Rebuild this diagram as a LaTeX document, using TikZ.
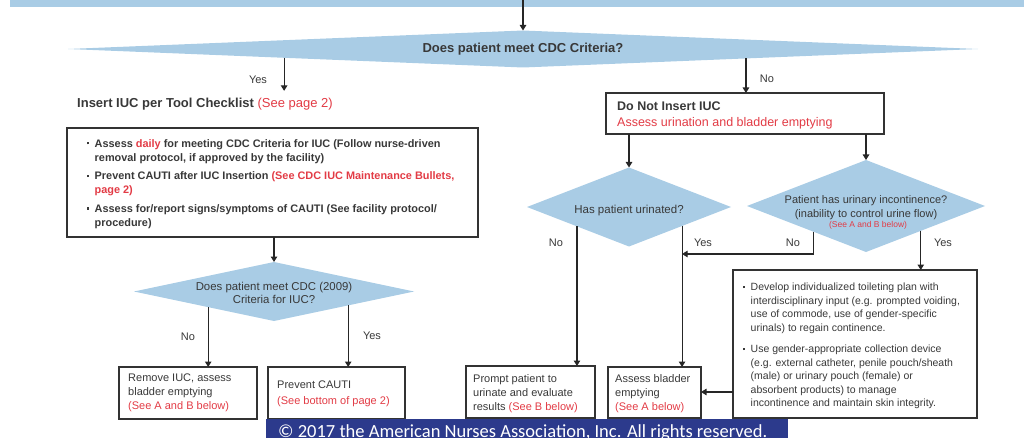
\documentclass[tikz,border=0pt]{standalone}
\usepackage{fontspec}
\setmainfont{Liberation Sans}
\newfontfamily\bannerfont{Carlito}
\usetikzlibrary{shapes.geometric,arrows.meta,calc}
\definecolor{diablue}{HTML}{A9CCE5}
\definecolor{redtxt}{HTML}{E23B45}
\definecolor{txtgray}{HTML}{383838}
\definecolor{boxline}{HTML}{333333}
\definecolor{navy}{HTML}{2C3A8C}
\newcommand{\rd}[1]{\textcolor{redtxt}{#1}}
\newcommand{\fs}[2]{\fontsize{#1}{#2}\selectfont}
\newcommand{\bulx}{\makebox[7.5pt][l]{\raisebox{2.6pt}{\rule{2.2pt}{2.2pt}}}}
\newcommand{\indx}{\hspace*{7.5pt}}
\tikzset{
  box/.style={draw=boxline, line width=1.3pt, inner sep=0pt, outer sep=0pt, anchor=north west},
  dia/.style={diamond, fill=diablue, draw=none, inner sep=0pt, outer sep=0pt},
  arr/.style={draw=black!85, line width=1.1pt, -{Triangle[length=5.5pt,width=6.5pt]}},
  txt/.style={text=txtgray, inner sep=0pt, align=left, anchor=north west},
  ctxt/.style={text=txtgray, inner sep=0pt, align=center},
  lbl/.style={text=txtgray, inner sep=0pt, anchor=base, font=\fs{11}{13}},
}
\begin{document}
\begin{tikzpicture}[x=1pt,y=-1pt]
\useasboundingbox (0,0) rectangle (1024,438);

% top band
\node[fill=diablue, anchor=north west, minimum width=1014pt, minimum height=7pt, inner sep=0pt, outer sep=0pt] (band) at (10,0) {};

% main diamond
\node[dia, minimum width=910pt, minimum height=37pt] (d1) at (523,49) {};
\node[ctxt, anchor=base, font=\bfseries\fs{13}{15}] (d1t) at (523,52.7) {Does patient meet CDC Criteria?};
\draw[arr] (d1.north |- band.north) -- (d1.north);

% left branch
\node[txt, anchor=base west, font=\fs{13}{15}] (ins) at (77,107.5) {\textbf{Insert IUC per Tool Checklist} \rd{(See page 2)}};
\coordinate (y1) at ($(d1.west)!0.475!(d1.south)$);
\draw[arr] (y1) -- ($(y1 |- ins.north)+(0,-7)$);
\node[lbl] (y1l) at (258,84) {Yes};

\node[box, minimum width=411pt, minimum height=109pt] (lb) at (67,128) {};
\node[txt, font=\bfseries\fs{10.9}{14.3}] (lbt) at (87,139) {%
\bulx Assess \rd{daily} for meeting CDC Criteria for IUC (Follow nurse-driven\\
\indx removal protocol, if approved by the facility)\\[4pt]
\bulx Prevent CAUTI after IUC Insertion \rd{(See CDC IUC Maintenance Bullets,}\\
\indx\rd{page 2)}\\[4pt]
\bulx Assess for/report signs/symptoms of CAUTI (See facility protocol/\\
\indx procedure)};

\node[dia, minimum width=280pt, minimum height=59pt] (d2) at (274,291.5) {};
\node[ctxt, anchor=north, font=\fs{11.4}{13}] (d2t) at (274,282.4) {Does patient meet CDC (2009)\\Criteria for IUC?};
\draw[arr] (lb.south -| d2.north) -- (d2.north);

\node[box, minimum width=138pt, minimum height=52pt] (rm) at (119,367) {};
\node[txt, font=\fs{11}{14}] (rmt) at (128,374) {Remove IUC, assess\\bladder emptying\\\rd{(See A and B below)}};
\node[box, minimum width=137pt, minimum height=52pt] (pv) at (268,367) {};
\node[txt, font=\fs{11}{16}] (pvt) at (277,381) {Prevent CAUTI\\\rd{(See bottom of page 2)}};

\coordinate (n2) at ($(d2.west)!0.53!(d2.south)$);
\coordinate (y2) at ($(d2.east)!0.47!(d2.south)$);
\draw[arr] (n2) -- (n2 |- rm.north);
\draw[arr] (y2) -- (y2 |- pv.north);
\node[lbl] (n2l) at (188,340) {No};
\node[lbl] (y2l) at (372,339) {Yes};

% right branch
\node[box, minimum width=278pt, minimum height=41pt] (dni) at (606,93) {};
\node[txt, font=\fs{12.5}{16.5}] (dnit) at (617,101.4) {\textbf{Do Not Insert IUC}\\\rd{Assess urination and bladder emptying}};
\coordinate (n1) at ($(d1.east)!0.51!(d1.south)$);
\draw[arr] (n1) -- (n1 |- dni.north);
\node[lbl] (n1l) at (767,83) {No};

\node[dia, minimum width=204pt, minimum height=79pt] (hu) at (629,207) {};
\node[ctxt, anchor=base, font=\fs{11.5}{13}] (hut) at (629,214) {Has patient urinated?};
\node[dia, minimum width=238pt, minimum height=92pt] (inc) at (866,206) {};
\node[ctxt, anchor=north, font=\fs{11}{14}] (inct) at (866,195) {Patient has urinary incontinence?\\(inability to control urine flow)};
\node[ctxt, anchor=base, font=\fs{8.5}{10}, text=redtxt] (incr) at (868,227.5) {(See A and B below)};
\draw[arr] (dni.south -| hu.north) -- (hu.north);
\draw[arr] (dni.south -| inc.north) -- (inc.north);

\node[box, minimum width=129pt, minimum height=52pt] (pr) at (466,366) {};
\node[txt, font=\fs{11}{14}] (prt) at (473,374) {Prompt patient to\\urinate and evaluate\\results \rd{(See B below)}};
\node[box, minimum width=93pt, minimum height=51pt] (ab) at (608,367) {};
\node[txt, font=\fs{11}{14}] (abt) at (615,374) {Assess bladder\\emptying\\\rd{(See A below)}};
\node[box, minimum width=244pt, minimum height=148pt] (rb) at (733,270) {};
\node[txt, font=\fs{10.5}{13.5}] (rbt) at (743,283) {%
\bulx Develop individualized toileting plan with\\
\indx interdisciplinary input (e.g. prompted voiding,\\
\indx use of commode, use of gender-specific\\
\indx urinals) to regain continence.\\[8pt]
\bulx Use gender-appropriate collection device\\
\indx (e.g. external catheter, penile pouch/sheath\\
\indx (male) or urinary pouch (female) or\\
\indx absorbent products) to manage\\
\indx incontinence and maintain skin integrity.};

\coordinate (hn) at ($(hu.west)!0.49!(hu.south)$);
\coordinate (hy) at ($(hu.east)!0.48!(hu.south)$);
\coordinate (in) at ($(inc.west)!0.56!(inc.south)$);
\coordinate (iy) at ($(inc.east)!0.54!(inc.south)$);
\coordinate (j) at (hy |- 0,254);
\draw[arr] (hn) -- (hn |- pr.north);
\draw[arr] (hy) -- (hy |- ab.north);
\draw[arr] (in) |- (j);
\draw[arr] (iy) -- (iy |- rb.north);
\coordinate (rbw) at ($(rb.south west)+(0,-26)$);
\draw[arr] (rbw) -- (rbw -| ab.east);
\node[lbl] (hnl) at (556,247) {No};
\node[lbl] (hyl) at (703,247) {Yes};
\node[lbl] (inl) at (793,247) {No};
\node[lbl] (iyl) at (943,247) {Yes};

% banner
\node[fill=navy, anchor=north west, minimum width=522pt, minimum height=22pt, inner sep=0pt, outer sep=0pt] (ban) at (266,419) {};
\node[anchor=base west, inner sep=0pt, text=white, font=\bannerfont\fs{18.5}{20}] (bant) at (278,437) {© 2017 the American Nurses Association, Inc. All rights reserved.};
\end{tikzpicture}
\end{document}
